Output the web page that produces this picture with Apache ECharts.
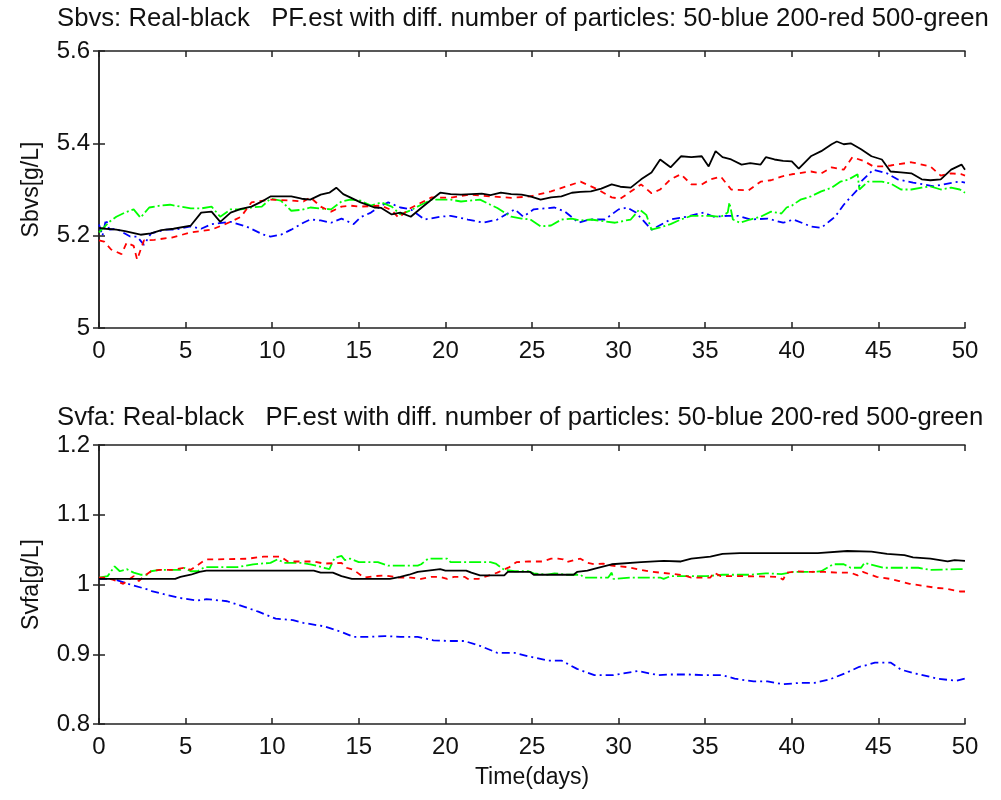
<!DOCTYPE html>
<html><head><meta charset="utf-8">
<script src="https://cdn.jsdelivr.net/npm/echarts@6/dist/echarts.min.js"></script>
<style>html,body{margin:0;padding:0;background:#fff}#c{width:1001px;height:800px}</style>
</head><body><div id="c"></div>
<script>
// ---- Top panel (Sbvs) ----
const topRealT = [0,0.4,1.0,1.5,2.4,3.0,3.6,4.3,5.3,5.9,6.5,7.0,7.6,8.2,8.8,9.3,9.9,10.5,11.1,11.7,12.2,12.8,13.3,13.7,14.1,14.5,15.1,15.9,16.3,16.9,17.4,18.0,18.6,19.1,19.7,20.3,20.9,21.5,22.1,22.6,23.2,23.8,24.4,24.9,25.5,26.1,26.7,27.3,27.8,28.4,29.0,29.6,30.1,30.7,31.3,31.9,32.4,33.0,33.6,34.2,34.8,35.2,35.6,36.0,36.5,37.1,37.6,38.2,38.5,39.0,39.5,40.0,40.4,41.1,41.7,42.3,42.6,43.0,43.4,44.0,44.6,45.2,45.7,46.3,46.9,47.5,48.0,48.6,49.2,49.8,50];
const topRealV = [5.217,5.215,5.213,5.21,5.202,5.205,5.212,5.215,5.222,5.25,5.252,5.23,5.25,5.258,5.263,5.272,5.285,5.285,5.285,5.28,5.278,5.289,5.293,5.304,5.29,5.283,5.272,5.261,5.26,5.246,5.25,5.241,5.26,5.275,5.293,5.29,5.289,5.29,5.291,5.288,5.293,5.29,5.289,5.285,5.278,5.283,5.285,5.293,5.295,5.296,5.302,5.311,5.306,5.304,5.322,5.337,5.365,5.348,5.372,5.37,5.372,5.35,5.383,5.37,5.365,5.354,5.357,5.354,5.37,5.365,5.362,5.361,5.345,5.372,5.383,5.398,5.404,5.398,5.4,5.387,5.372,5.365,5.339,5.337,5.335,5.322,5.32,5.322,5.343,5.354,5.343];

const topP200T = [0,0.3,0.7,1.3,1.6,2.0,2.2,2.6,3.2,4.2,5.3,6.5,7.6,8.2,8.8,9.9,11.1,11.8,12.2,12.8,13.4,14.0,14.5,15.1,16.3,16.9,17.3,18.0,19.2,20.3,21.4,22.6,23.8,24.9,26.1,27.0,27.8,28.8,29.6,30.1,31.3,31.9,32.4,33.0,33.6,34.2,34.8,35.3,35.9,36.5,37.5,38.2,38.8,39.4,40.0,41.1,41.7,42.3,43.0,43.5,44.2,44.7,45.2,45.7,46.9,48.0,48.6,49.2,49.8,50];
const topP200V = [5.19,5.187,5.17,5.16,5.185,5.178,5.148,5.19,5.191,5.196,5.207,5.213,5.23,5.241,5.272,5.278,5.276,5.274,5.283,5.263,5.252,5.263,5.265,5.263,5.265,5.255,5.239,5.26,5.283,5.282,5.289,5.285,5.282,5.285,5.296,5.307,5.317,5.3,5.283,5.28,5.311,5.292,5.3,5.322,5.333,5.311,5.311,5.322,5.328,5.3,5.298,5.317,5.32,5.328,5.333,5.339,5.335,5.348,5.343,5.37,5.361,5.35,5.35,5.352,5.359,5.35,5.33,5.335,5.333,5.33];

const topP500T = [0,0.6,1.0,1.5,2.0,2.4,2.9,3.5,4.1,4.7,5.3,5.9,6.5,7.0,7.6,8.2,8.8,9.4,9.9,10.5,11.1,11.7,12.2,12.8,13.4,14.0,14.5,15.1,15.7,16.3,16.9,17.4,18.0,18.6,19.2,20.3,20.9,22.0,22.6,23.0,23.8,24.4,24.9,25.5,26.1,26.7,27.3,27.8,28.4,29.0,29.8,30.7,31.2,31.6,31.9,32.4,33.0,33.6,34.2,35.3,35.9,36.3,36.4,36.6,37.0,37.6,38.2,38.8,39.4,39.7,40.0,40.5,41.1,41.7,42.3,42.8,43.3,43.8,43.9,44.4,45.2,45.7,46.3,46.9,47.5,48.0,48.6,49.2,49.7,50];
const topP500V = [5.207,5.23,5.241,5.25,5.257,5.239,5.261,5.265,5.267,5.263,5.259,5.259,5.263,5.241,5.257,5.257,5.261,5.263,5.28,5.276,5.254,5.256,5.261,5.259,5.257,5.274,5.278,5.276,5.265,5.272,5.263,5.246,5.255,5.267,5.278,5.278,5.274,5.278,5.267,5.26,5.241,5.237,5.235,5.22,5.222,5.235,5.237,5.233,5.235,5.232,5.228,5.235,5.257,5.245,5.213,5.218,5.225,5.235,5.243,5.243,5.241,5.25,5.272,5.235,5.228,5.235,5.241,5.252,5.248,5.261,5.265,5.278,5.285,5.296,5.304,5.317,5.322,5.333,5.3,5.317,5.317,5.313,5.3,5.3,5.304,5.307,5.3,5.304,5.3,5.293];

const topP50T = [0,0.2,0.4,0.6,1.0,1.8,2.2,2.6,3.0,3.8,4.4,5.3,5.9,6.5,7.6,8.5,9.5,9.9,10.5,11.1,11.8,12.2,12.8,13.4,14.0,14.7,15.1,15.7,16.3,16.7,17.4,18.0,18.8,19.7,20.3,21.3,22.2,23.0,24.0,24.5,25.1,26.3,26.9,27.7,28.3,29.2,30.0,30.5,31.0,31.9,33.0,33.9,34.9,35.5,36.3,36.9,37.6,38.6,39.5,40.1,41.1,41.7,42.3,42.5,43.0,43.8,44.0,44.7,45.5,46.1,47.0,48.2,49.3,49.7,50];
const topP50V = [5.224,5.2,5.235,5.213,5.215,5.198,5.198,5.18,5.205,5.213,5.213,5.22,5.215,5.225,5.23,5.22,5.202,5.198,5.202,5.213,5.228,5.235,5.233,5.228,5.237,5.225,5.24,5.25,5.265,5.272,5.261,5.257,5.235,5.241,5.243,5.235,5.228,5.235,5.257,5.241,5.257,5.261,5.252,5.228,5.235,5.235,5.257,5.261,5.25,5.213,5.235,5.241,5.25,5.241,5.243,5.243,5.235,5.237,5.228,5.235,5.22,5.217,5.235,5.241,5.267,5.3,5.317,5.343,5.335,5.322,5.315,5.307,5.315,5.317,5.315];

// ---- Bottom panel (Svfa) ----
const botRealT = [0,4.4,4.7,5.3,5.8,6.2,7,12.4,12.8,13.5,14.0,14.6,16.8,17.4,17.9,18.4,19.0,19.7,20.0,21.2,21.5,22.0,23.4,23.6,24.9,25.1,27.4,27.6,28.2,28.8,29.6,31.3,32.6,33.6,34.2,35.3,36.0,37.0,41.5,43.2,44.6,45.5,46.5,47.0,48.0,49.0,49.4,50];
const botRealV = [1.008,1.008,1.011,1.014,1.018,1.02,1.02,1.02,1.017,1.017,1.012,1.008,1.008,1.011,1.014,1.018,1.02,1.022,1.02,1.02,1.017,1.013,1.013,1.018,1.018,1.014,1.014,1.018,1.02,1.024,1.029,1.032,1.034,1.033,1.037,1.04,1.044,1.045,1.045,1.048,1.047,1.044,1.042,1.039,1.037,1.033,1.035,1.034];

const botP500T = [0,0.5,0.7,0.9,1.2,1.6,2.0,2.4,2.8,3.0,3.5,4.7,4.9,5.3,5.7,6.1,8.0,8.9,9.9,10.3,10.7,11.7,12.2,13.0,13.3,13.6,14.0,14.2,14.5,15.0,16.1,16.7,18.4,18.6,19.0,20.1,20.3,21.0,21.8,22.6,22.9,23.4,24.0,24.8,25.1,25.9,26.3,27.0,27.8,28.0,29.4,29.6,29.7,30.7,32.4,32.6,33.0,35.1,36.0,37.6,38.5,39.4,40.1,41.1,41.7,42.4,43.0,43.4,44.0,44.2,45.3,47.3,48.0,49.6,50];
const botP500V = [1.01,1.012,1.019,1.026,1.019,1.022,1.017,1.014,1.014,1.019,1.021,1.021,1.024,1.019,1.019,1.025,1.025,1.029,1.031,1.036,1.031,1.031,1.029,1.024,1.022,1.038,1.041,1.035,1.037,1.032,1.032,1.027,1.027,1.029,1.037,1.037,1.032,1.032,1.032,1.032,1.03,1.021,1.019,1.019,1.016,1.014,1.016,1.014,1.014,1.01,1.01,1.017,1.008,1.01,1.01,1.008,1.012,1.012,1.014,1.014,1.016,1.015,1.018,1.018,1.019,1.029,1.029,1.024,1.024,1.031,1.024,1.024,1.021,1.022,1.022];

const botP200T = [0,0.3,0.8,1.4,2.0,2.3,2.6,3.0,3.5,4.3,4.9,5.3,6.0,6.2,6.8,8.6,9.5,10.5,10.9,11.7,12.4,13.0,14.0,14.3,14.7,15.3,15.9,16.5,17.3,18.0,18.6,19.2,19.7,20.1,20.5,21.1,21.3,21.9,22.4,23.0,23.7,24.1,24.8,25.6,26.1,26.5,26.8,27.0,27.6,27.8,28.2,28.6,29.1,29.6,30.5,31.7,32.4,33.2,33.8,34.2,35.3,35.5,35.9,37.2,39.2,39.5,39.7,40.3,41.1,41.9,42.7,43.4,43.8,44.1,44.9,45.7,46.2,46.8,47.6,48.4,48.9,49.7,50];
const botP200V = [1.01,1.01,1.007,1.001,1.012,1.005,1.012,1.019,1.021,1.021,1.024,1.021,1.033,1.036,1.036,1.037,1.04,1.04,1.033,1.033,1.033,1.03,1.031,1.024,1.021,1.01,1.012,1.013,1.01,1.01,1.008,1.011,1.011,1.008,1.011,1.011,1.008,1.008,1.012,1.017,1.025,1.032,1.033,1.033,1.037,1.037,1.036,1.032,1.036,1.037,1.031,1.029,1.03,1.027,1.025,1.019,1.017,1.015,1.013,1.01,1.01,1.017,1.012,1.012,1.011,1.007,1.017,1.019,1.018,1.018,1.017,1.017,1.013,1.018,1.011,1.008,1.005,1.001,0.998,0.995,0.994,0.99,0.99];

const botP50T = [0,0.8,1.8,2.8,3.1,3.6,4.6,5.7,6.2,7.4,8.4,9.2,10.2,11.2,11.8,13.0,14.0,14.7,15.5,16.5,17.4,18.4,19.3,20.3,21.1,22.0,23.0,24.0,24.8,25.9,26.7,27.6,28.6,29.7,31.1,32.3,33.0,34.0,35.0,36.0,36.7,37.8,38.6,39.5,40.5,41.3,42.2,43.2,43.9,44.4,44.8,45.7,46.3,47.0,47.4,48.4,49.5,50];
const botP50V = [1.008,1.008,1.0,0.993,0.99,0.987,0.981,0.977,0.979,0.976,0.968,0.961,0.951,0.949,0.945,0.94,0.932,0.925,0.925,0.926,0.925,0.925,0.92,0.919,0.919,0.912,0.902,0.902,0.897,0.891,0.891,0.879,0.87,0.87,0.876,0.87,0.871,0.871,0.87,0.87,0.865,0.861,0.861,0.857,0.859,0.859,0.864,0.874,0.882,0.885,0.888,0.888,0.878,0.873,0.871,0.865,0.862,0.865];

const titleTop = "Sbvs: Real-black   PF.est with diff. number of particles: 50-blue 200-red 500-green";
const titleBot = "Svfa: Real-black   PF.est with diff. number of particles: 50-blue 200-red 500-green";
const yNameTop = "Sbvs[g/L]";
const yNameBot = "Svfa[g/L]";
const xName = "Time(days)";

const FONT = "Liberation Sans, Arial, sans-serif";
const zip = (t, v) => t.map((x, i) => [x, v[i]]);
const axisLine = {show: true, lineStyle: {color: '#222', width: 1.5}};
const tick = {show: true, inside: true, length: 6, lineStyle: {color: '#222', width: 1.5}};
const lbl = {fontSize: 24, color: '#111', fontFamily: FONT};
const nameStyle = {fontSize: 23, color: '#111', fontFamily: FONT};

function xAxes(gi, withName) {
  return [
    {gridIndex: gi, type: 'value', min: 0, max: 50, interval: 5, position: 'bottom',
     axisLine, axisTick: tick, splitLine: {show: false}, axisLabel: Object.assign({margin: 11}, lbl),
     name: withName ? xName : '', nameLocation: 'middle', nameGap: 42, nameTextStyle: nameStyle},
    {gridIndex: gi, type: 'value', min: 0, max: 50, interval: 5, position: 'top',
     axisLine, axisTick: tick, splitLine: {show: false}, axisLabel: {show: false}}
  ];
}
function yAxes(gi, min, max, itv, name) {
  return [
    {gridIndex: gi, type: 'value', min, max, interval: itv, position: 'left',
     axisLine, axisTick: tick, splitLine: {show: false}, axisLabel: Object.assign({margin: 9}, lbl),
     name, nameLocation: 'middle', nameGap: 56, nameRotate: 90, nameTextStyle: nameStyle},
    {gridIndex: gi, type: 'value', min, max, interval: itv, position: 'right',
     axisLine, axisTick: tick, splitLine: {show: false}, axisLabel: {show: false}}
  ];
}
function line(name, data, xi, yi, color, type) {
  return {name, type: 'line', data, xAxisIndex: xi, yAxisIndex: yi, showSymbol: false, symbol: 'none',
          animation: false, lineStyle: {color, width: 1.8, type}, z: color === '#000000' ? 3 : 2};
}

const chart = echarts.init(document.getElementById('c'), null, {renderer: 'canvas'});
chart.setOption({
  backgroundColor: '#fff',
  animation: false,
  title: [
    {text: titleTop, left: 52, top: 1, textStyle: {fontSize: 25.7, fontWeight: 'normal', color: '#111', fontFamily: FONT}},
    {text: titleBot, left: 52, top: 400, textStyle: {fontSize: 25.7, fontWeight: 'normal', color: '#111', fontFamily: FONT}}
  ],
  grid: [
    {left: 99, right: 36, top: 51, height: 277},
    {left: 99, right: 36, top: 445, height: 279}
  ],
  xAxis: [...xAxes(0, false), ...xAxes(1, true)],
  yAxis: [...yAxes(0, 5, 5.6, 0.2, yNameTop), ...yAxes(1, 0.8, 1.2, 0.1, yNameBot)],
  series: [
    line('50', zip(topP50T, topP50V), 0, 0, '#0000ff', [8, 4, 2, 4]),
    line('500', zip(topP500T, topP500V), 0, 0, '#00ff00', [12, 3, 2, 3]),
    line('200', zip(topP200T, topP200V), 0, 0, '#ff0000', [6, 5]),
    line('Real', zip(topRealT, topRealV), 0, 0, '#000000', 'solid'),
    line('50', zip(botP50T, botP50V), 2, 2, '#0000ff', [8, 4, 2, 4]),
    line('500', zip(botP500T, botP500V), 2, 2, '#00ff00', [12, 3, 2, 3]),
    line('200', zip(botP200T, botP200V), 2, 2, '#ff0000', [6, 5]),
    line('Real', zip(botRealT, botRealV), 2, 2, '#000000', 'solid')
  ]
});
</script>
</body></html>
